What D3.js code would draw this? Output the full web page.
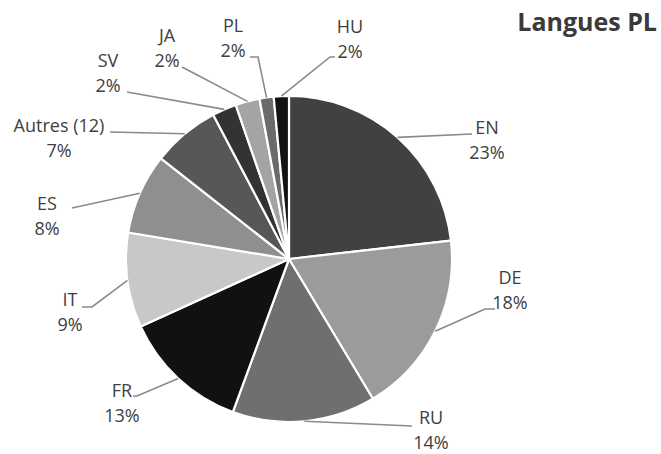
<!DOCTYPE html>
<html><head><meta charset="utf-8">
<script src="https://cdn.jsdelivr.net/npm/d3@7"></script>
<style>
html,body{margin:0;padding:0;background:#fff;}
svg{display:block;}
text{font-family:"Open Sans",sans-serif;}
</style></head>
<body>
<script>
const categories = ["EN","DE","RU","FR","IT","ES","Autres (12)","SV","JA","PL","HU"];
const values = [23.2, 18.2, 14.2, 12.6, 9.4, 8.0, 6.7, 2.4, 2.4, 1.4, 1.5];
const percentLabels = ["23%","18%","14%","13%","9%","8%","7%","2%","2%","2%","2%"];
const colors = ["#414141","#9b9b9b","#6f6f6f","#111111","#c8c8c8","#8f8f8f","#575757","#333333","#a4a4a4","#6a6a6a","#131313"];
const title = "Langues PL";

// label layout: text centre of first line and leader elbow / end points
const labelLayout = [
  {tx:487, ty:128, pts:[[472,134]]},
  {tx:510, ty:278, pts:[[485,309],[495,309]]},
  {tx:431, ty:418, pts:[[412,426]]},
  {tx:122, ty:391, pts:[[137,396],[133,396]]},
  {tx:70,  ty:300, pts:[[92,307],[82,307]]},
  {tx:47,  ty:204, pts:[[72,208]]},
  {tx:59,  ty:126, pts:[[110,132]]},
  {tx:108, ty:61,  pts:[[127,92]]},
  {tx:167, ty:36,  pts:[[182,67]]},
  {tx:233, ty:26,  pts:[[258,57],[250,57]]},
  {tx:350, ty:27,  pts:[[330,57],[335,57]]}
];

const W = 661, H = 454;
const cx = 289, cy = 259, R = 163;

const svg = d3.select("body").append("svg").attr("width", W).attr("height", H);

const data = categories.map((c,i)=>({cat:c, value:values[i], pct:percentLabels[i], color:colors[i], lay:labelLayout[i]}));

const pie = d3.pie().value(d=>d.value).sort(null);
const arcs = pie(data);
const arc = d3.arc().innerRadius(0).outerRadius(R);

const g = svg.append("g").attr("transform", `translate(${cx},${cy})`);
g.selectAll("path.slice").data(arcs).enter().append("path")
  .attr("class","slice")
  .attr("d", arc)
  .attr("fill", d=>d.data.color)
  .attr("stroke", "#fff")
  .attr("stroke-width", 2.2)
  .attr("stroke-linejoin","round");

// leader lines
const line = d3.line();
svg.selectAll("path.leader").data(arcs).enter().append("path")
  .attr("class","leader")
  .attr("d", d=>{
    const a = (d.startAngle + d.endAngle)/2;
    const p0 = [cx + R*Math.sin(a), cy - R*Math.cos(a)];
    return line([p0, ...d.data.lay.pts]);
  })
  .attr("fill","none")
  .attr("stroke","#8a8a8a")
  .attr("stroke-width",1.6);

// labels
const lbl = svg.selectAll("g.lbl").data(arcs).enter().append("g").attr("class","lbl");
lbl.append("text")
  .attr("x", d=>d.data.lay.tx).attr("y", d=>d.data.lay.ty)
  .attr("dy","0.35em").attr("text-anchor","middle")
  .attr("font-size",18).attr("fill","#404040")
  .text(d=>d.data.cat);
lbl.append("text")
  .attr("x", d=>d.data.lay.tx).attr("y", d=>d.data.lay.ty + 24.5)
  .attr("dy","0.35em").attr("text-anchor","middle")
  .attr("font-size",18).attr("fill","#404040")
  .text(d=>d.data.pct);

svg.append("text")
  .attr("x", 657).attr("y", 31)
  .attr("text-anchor","end")
  .attr("font-size",25).attr("font-weight","bold").attr("fill","#3a3a3a")
  .text(title);
</script>
</body></html>
